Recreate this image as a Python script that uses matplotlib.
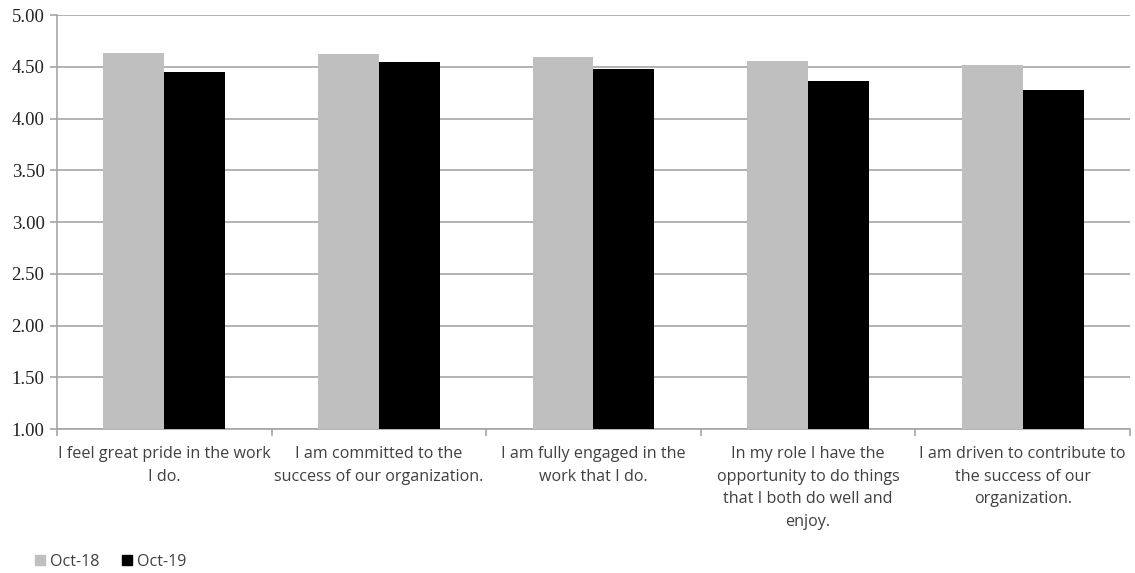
import numpy as np
import matplotlib
matplotlib.use('Agg')
import matplotlib.pyplot as plt
from matplotlib.patches import Patch

categories = ['I feel great pride in the work\nI do.',
              'I am committed to the\nsuccess of our organization.',
              'I am fully engaged in the\nwork that I do.',
              'In my role I have the\nopportunity to do things\nthat I both do well and\nenjoy.',
              'I am driven to contribute to\nthe success of our\norganization.']
series   = ['Oct-18', 'Oct-19']
oct18    = [4.63, 4.62, 4.59, 4.56, 4.52]
oct19    = [4.45, 4.55, 4.48, 4.36, 4.28]
yticks   = [1.00, 1.50, 2.00, 2.50, 3.00, 3.50, 4.00, 4.50, 5.00]

colors = ['#bfbfbf', '#000000']
grid_c = '#a6a6a6'
txt_c  = '#404040'

fig = plt.figure(figsize=(11.35, 5.73), dpi=100)
ax = fig.add_axes([0.0502, 0.2513, 0.9454, 0.7225])

x = np.arange(len(categories))
w = 0.284
ax.bar(x - w/2, oct18, w, bottom=0, color=colors[0], zorder=3)
ax.bar(x + w/2, oct19, w, bottom=0, color=colors[1], zorder=3)

ax.set_xlim(-0.5, len(categories) - 0.5)
ax.set_ylim(1.0, 5.0)
ax.set_yticks(yticks)
ax.set_yticklabels(['%.2f' % v for v in yticks], family='Liberation Serif',
                   fontsize=13.5, color='#222222')
ax.yaxis.grid(True, color=grid_c, linewidth=1.2, zorder=0)

# category labels sit between the boundary ticks
ax.set_xticks(x)
ax.set_xticklabels(categories, family='Open Sans', fontsize=11.6, color=txt_c,
                   linespacing=1.57)
ax.tick_params(axis='x', which='major', length=0, pad=12)
ax.set_xticks(np.arange(-0.5, len(categories)), minor=True)
ax.tick_params(axis='x', which='minor', length=5, color=grid_c, width=1.2)
ax.tick_params(axis='y', length=5, color=grid_c, width=1.2, pad=4)

for s in ['top', 'right']:
    ax.spines[s].set_visible(False)
for s in ['left', 'bottom']:
    ax.spines[s].set_color(grid_c)
    ax.spines[s].set_linewidth(1.2)

handles = [Patch(color=c) for c in colors]
fig.legend(handles, series, loc='center left', bbox_to_anchor=(0.018, 0.02),
           ncol=2, frameon=False, handlelength=0.62, handleheight=0.62,
           handletextpad=0.3, columnspacing=1.4,
           prop={'family': 'Open Sans', 'size': 11.6}, labelcolor=txt_c)

plt.savefig('out.png', dpi=100)
